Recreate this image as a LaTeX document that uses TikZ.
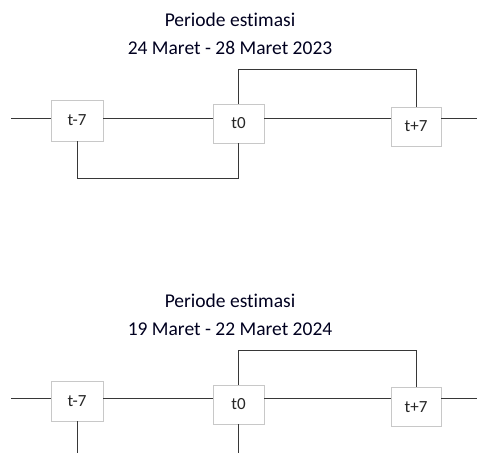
\documentclass[tikz,border=0pt]{standalone}
\usepackage{fontspec}
\setmainfont[Ligatures=NoCommon]{Carlito}
\begin{document}
\begin{tikzpicture}[x=1pt,y=-1pt,
  box/.style={draw=boxgray,line width=0.9pt,fill=white,inner sep=0pt,font=\fontsize{17}{19}\selectfont,text=black!85},
  conn/.style={draw=linegray,line width=1pt},
  title/.style={font=\fontsize{19.5}{22}\selectfont,text=black!88!blue,inner sep=0pt}]
\definecolor{boxgray}{RGB}{200,200,200}
\definecolor{linegray}{RGB}{55,55,55}
\useasboundingbox (0,0) rectangle (477,453);
% ---------- top diagram ----------
\node[title] (ttl1) at (230,20) {Periode estimasi};
\node[title] (ttl2) at (230,48) {24 Maret - 28 Maret 2023};
\coordinate (aL) at (11,118);
\coordinate (aR) at (477,118);
\node[box,minimum width=52pt,minimum height=41pt] (am) at (77,120.5) {t-7};
\node[box,minimum width=51pt,minimum height=39pt] (a0) at (238.5,123.5) {t0};
\node[box,minimum width=50pt,minimum height=39pt] (ap) at (416,126.5) {t+7};
\coordinate (aTop) at (238,69);
\coordinate (aBot) at (77,178);
\draw[conn] (aL) -- (aL -| am.west);
\draw[conn] (am.east |- aL) -- (a0.west |- aL);
\draw[conn] (a0.east |- aL) -- (ap.west |- aL);
\draw[conn] (ap.east |- aR) -- (aR);
\draw[conn] (a0.north -| aTop) -- (aTop) -| (ap.north);
\draw[conn] (am.south) -- (aBot) -| (a0.south -| aTop);
% ---------- bottom diagram ----------
\node[title] (ttl3) at (230,301) {Periode estimasi};
\node[title] (ttl4) at (230,329) {19 Maret - 22 Maret 2024};
\coordinate (bL) at (11,398);
\coordinate (bR) at (477,398);
\node[box,minimum width=52pt,minimum height=40pt] (bm) at (77,401) {t-7};
\node[box,minimum width=51pt,minimum height=39pt] (b0) at (238.5,404.5) {t0};
\node[box,minimum width=50pt,minimum height=39pt] (bp) at (416,407) {t+7};
\coordinate (bTop) at (238,350);
\coordinate (bmEnd) at (77,453);
\coordinate (b0End) at (238,453);
\draw[conn] (bL) -- (bL -| bm.west);
\draw[conn] (bm.east |- bL) -- (b0.west |- bL);
\draw[conn] (b0.east |- bL) -- (bp.west |- bL);
\draw[conn] (bp.east |- bR) -- (bR);
\draw[conn] (b0.north -| bTop) -- (bTop) -| (bp.north);
\draw[conn] (bm.south) -- (bmEnd);
\draw[conn] (b0.south -| bTop) -- (b0End);
\end{tikzpicture}
\end{document}
